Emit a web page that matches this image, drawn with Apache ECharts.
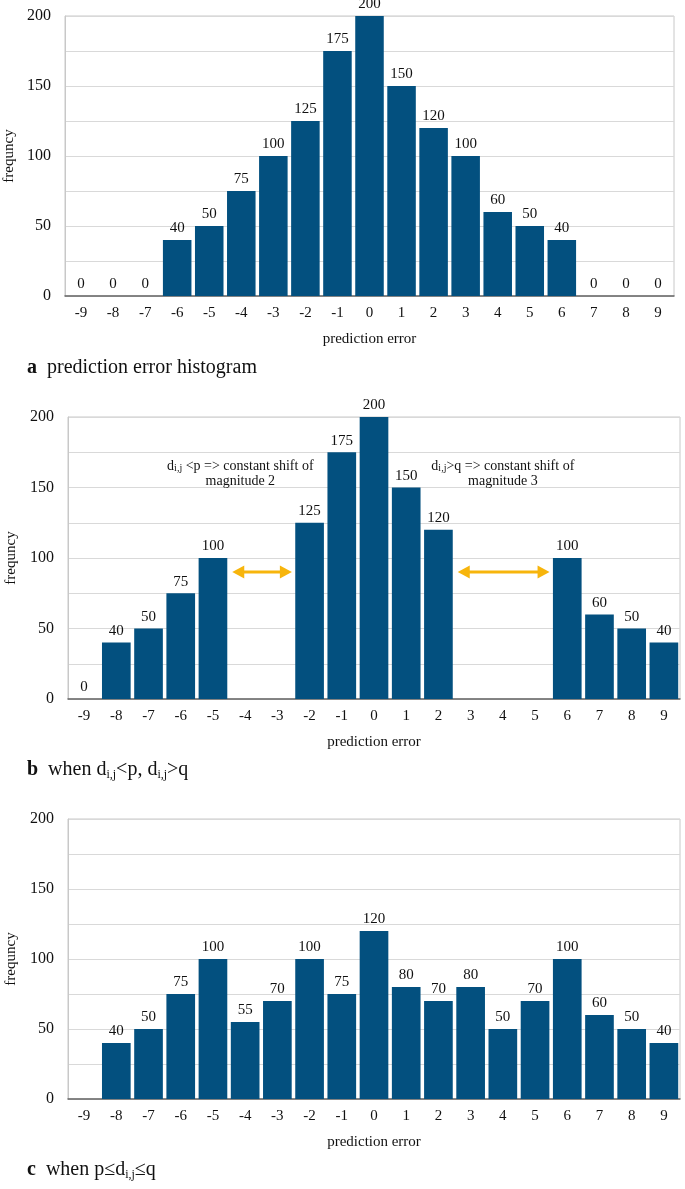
<!DOCTYPE html>
<html>
<head>
<meta charset="utf-8">
<script src="https://cdn.jsdelivr.net/npm/echarts@6/dist/echarts.min.js"></script>
<style>
html,body{margin:0;padding:0;background:#fff;}
#chart{width:685px;height:1189px;}
</style>
</head>
<body>
<div id="chart"></div>
<script>
const categories = ['-9','-8','-7','-6','-5','-4','-3','-2','-1','0','1','2','3','4','5','6','7','8','9'];
const valuesA = [0,0,0,40,50,75,100,125,175,200,150,120,100,60,50,40,0,0,0];
const valuesB = [0,40,50,75,100,null,null,125,175,200,150,120,null,null,null,100,60,50,40];
const valuesC = [null,40,50,75,100,55,70,100,75,120,80,70,80,50,70,100,60,50,40];
const yMin = 0, yMax = 200, yInterval = 25, yLabelStep = 50;
// annotations for panel b (category-index positions, value)
const arrowFrom = [4.6, 11.6];
const arrowTo = [6.45, 14.45];
const arrowValue = [90, 90];
const noteIndex = [4.85, 13.0];
const noteValue = [160, 160];
const noteText = ['d{s|i,j} <p => constant shift of\nmagnitude 2', 'd{s|i,j}>q => constant shift of\nmagnitude 3'];
const captions = ['{b|a}  prediction error histogram', '{b|b}  when d{s|i,j}<p, d{s|i,j}>q', '{b|c}  when p≤d{s|i,j}≤q'];

const FONT = 'Liberation Serif';
const BAR = '#03507f';
const GRID = '#d9d9d9';

const grids = [
  {left: 65, right: 11, top: 16, height: 280},
  {left: 68, right: 5, top: 417, height: 282},
  {left: 68, right: 5, top: 819, height: 280}
];
const seriesData = [valuesA, valuesB, valuesC];

const option = {
  animation: false,
  backgroundColor: '#fff',
  title: captions.map((c, i) => ({
    text: c,
    left: 22,
    top: [352, 754, 1154][i],
    textStyle: {
      fontFamily: FONT, fontSize: 20, fontWeight: 'normal', color: '#111',
      rich: {
        b: {fontFamily: FONT, fontSize: 20, fontWeight: 'bold', color: '#111', lineHeight: 22},
        s: {fontFamily: FONT, fontSize: 12, color: '#111', verticalAlign: 'bottom'}
      },
      lineHeight: 22
    }
  })),
  grid: grids.map(g => Object.assign({show: true, borderColor: '#c8c8c8', borderWidth: 1, backgroundColor: 'transparent', containLabel: false, outerBoundsMode: 'none'}, g)),
  xAxis: grids.map((g, i) => ({
    type: 'category',
    gridIndex: i,
    data: categories,
    name: 'prediction error',
    nameLocation: 'middle',
    nameGap: 36,
    nameTextStyle: {fontFamily: FONT, fontSize: 15, color: '#111'},
    axisLine: {lineStyle: {color: '#666', width: 1.5}},
    axisTick: {show: false},
    axisLabel: {fontFamily: FONT, fontSize: 15, color: '#111', margin: 10, interval: 0}
  })),
  yAxis: grids.map((g, i) => ({
    type: 'value',
    gridIndex: i,
    min: yMin, max: yMax, interval: yInterval,
    name: 'frequncy',
    nameLocation: 'middle',
    nameGap: [46, 49, 49][i],
    nameTextStyle: {fontFamily: FONT, fontSize: 15, color: '#111'},
    axisLine: {show: true, lineStyle: {color: '#c8c8c8'}},
    axisTick: {show: false},
    splitLine: {show: true, lineStyle: {color: GRID, width: 1}},
    axisLabel: {
      fontFamily: FONT, fontSize: 16, color: '#111', margin: 14,
      formatter: v => (v % yLabelStep === 0 ? String(v) : '')
    }
  })),
  series: seriesData.map((d, i) => ({
    type: 'bar',
    xAxisIndex: i, yAxisIndex: i,
    data: d,
    barCategoryGap: '11%',
    itemStyle: {color: BAR},
    label: {show: true, position: 'top', distance: 4, fontFamily: FONT, fontSize: 15, color: '#111'}
  })).concat([
    {
      type: 'custom',
      xAxisIndex: 1, yAxisIndex: 1,
      silent: true,
      z: 5,
      data: arrowValue.map((v, k) => [0, v, arrowFrom[k], arrowTo[k]]),
      encode: {x: 0, y: 1},
      renderItem: (params, api) => {
        const base = api.coord([0, api.value(1)]);
        const bw = api.size([1, 0])[0];
        const x1 = base[0] + api.value(2) * bw;
        const x2 = base[0] + api.value(3) * bw;
        const y = base[1];
        const hl = 12, hh = 6.5;
        const col = '#f7b50c';
        return {
          type: 'group',
          children: [
            {type: 'line', shape: {x1: x1 + hl - 1, y1: y, x2: x2 - hl + 1, y2: y}, style: {stroke: col, lineWidth: 3}},
            {type: 'polygon', shape: {points: [[x1, y], [x1 + hl, y - hh], [x1 + hl, y + hh]]}, style: {fill: col}},
            {type: 'polygon', shape: {points: [[x2, y], [x2 - hl, y - hh], [x2 - hl, y + hh]]}, style: {fill: col}}
          ]
        };
      }
    },
    {
      type: 'custom',
      xAxisIndex: 1, yAxisIndex: 1,
      silent: true,
      z: 5,
      data: noteValue.map((v, k) => [0, v, noteIndex[k], k]),
      encode: {x: 0, y: 1},
      renderItem: (params, api) => {
        const base = api.coord([0, api.value(1)]);
        const bw = api.size([1, 0])[0];
        const x = base[0] + api.value(2) * bw;
        return {
          type: 'text',
          style: {
            text: noteText[api.value(3)],
            x: x, y: base[1],
            align: 'center', verticalAlign: 'middle',
            fontFamily: FONT, fontSize: 14, fill: '#111',
            lineHeight: 15,
            rich: {
              s: {fontFamily: FONT, fontSize: 10, fill: '#111', verticalAlign: 'bottom'}
            }
          }
        };
      }
    }
  ])
};

const chart = echarts.init(document.getElementById('chart'), null, {renderer: 'canvas'});
chart.setOption(option);
</script>
</body>
</html>
